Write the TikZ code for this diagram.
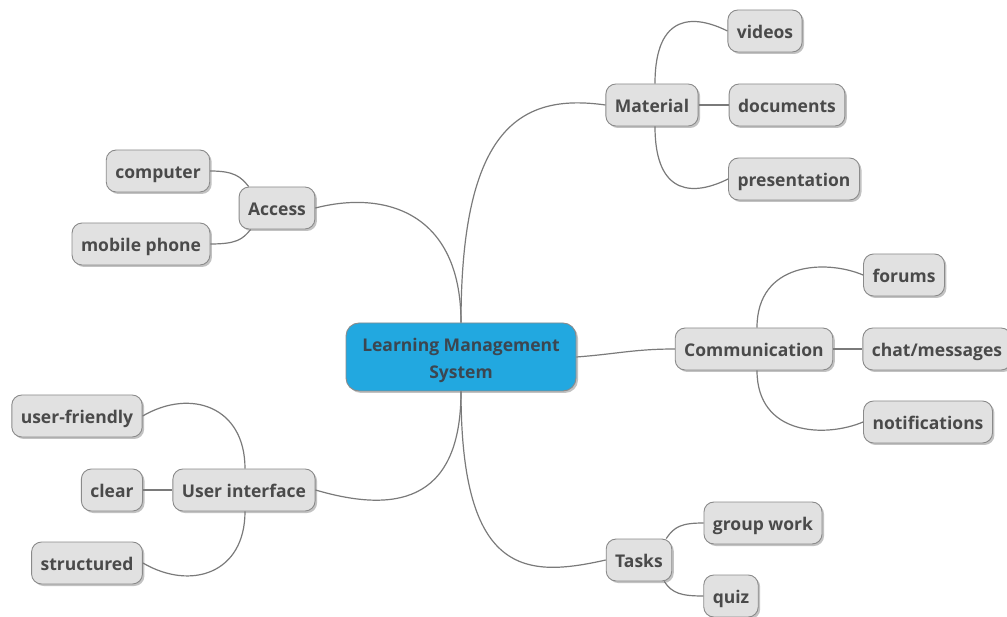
\documentclass[tikz,border=0pt]{standalone}
\usepackage{fontspec}
\setmainfont{Open Sans}
\usetikzlibrary{shadows}
\definecolor{boxfill}{HTML}{E1E1E1}
\definecolor{boxline}{HTML}{8A8A8A}
\definecolor{ink}{HTML}{4A4A4A}
\definecolor{hubfill}{HTML}{22A8E0}
\definecolor{hubink}{HTML}{3C4650}
\definecolor{wire}{HTML}{7A7A7A}
\tikzset{
  topic/.style={draw=boxline, line width=0.9pt, fill=boxfill, rounded corners=10pt,
    text=ink, font=\fontsize{17.5}{21}\selectfont\bfseries,
    minimum height=42pt, inner xsep=9pt, text height=15pt, text depth=0pt,
    drop shadow={shadow xshift=2pt, shadow yshift=-2pt, opacity=0.4, fill=black!60}},
  hub/.style={draw=boxline, line width=0.9pt, fill=hubfill, rounded corners=13pt,
    text=hubink, font=\fontsize{17.5}{27}\selectfont\bfseries,
    minimum width=230pt, minimum height=68pt,
    drop shadow={shadow xshift=2pt, shadow yshift=-2pt, opacity=0.4, fill=black!60}},
  link/.style={draw=wire, line width=1.2pt}
}
\begin{document}
\begin{tikzpicture}[x=1pt, y=-1pt]
\useasboundingbox (0,0) rectangle (1007,617);
\clip (0,0) rectangle (1007,617);

% central topic
\node[hub] (lms) at (461,357)
  {\raisebox{-2.5pt}[\height][\depth]{\begin{tabular}{@{}c@{}}Learning Management\\System\end{tabular}}};

% main branches
\node[topic] (mat) at (652,105) {Material};
\node[topic] (acc) at (277,208) {Access};
\node[topic] (com) at (754,349) {Communication};
\node[topic] (ui)  at (244,490) {User interface};
\node[topic] (tsk) at (639,560) {Tasks};

% material
\node[topic] (vid) at (765,31)  {videos};
\node[topic] (doc) at (787,105) {documents};
\node[topic] (pre) at (794,179) {presentation};

% access
\node[topic] (cmp) at (158,171) {computer};
\node[topic] (mob) at (141,244) {mobile phone};

% communication
\node[topic] (frm) at (904,275) {forums};
\node[topic] (cht) at (937,349) {chat/messages};
\node[topic] (ntf) at (928,422) {notifications};

% user interface
\node[topic] (ufr) at (77,416)  {user-friendly};
\node[topic] (clr) at (112,490) {clear};
\node[topic] (str) at (87,563)  {structured};

% tasks
\node[topic] (grp) at (763,523) {group work};
\node[topic] (qz)  at (731,596) {quiz};

% connectors from the central topic
\draw[link] (lms.north) .. controls +(0,-195) and +(-85,-12) .. (mat.west);
\draw[link] (lms.north) .. controls +(0,-110) and +(70,-18) .. (acc.east);
\draw[link] (lms.east) .. controls +(40,-3) and +(-40,0) .. (com.west);
\draw[link] (lms.south) .. controls +(0,115) and +(75,22) .. (ui.east);
\draw[link] (lms.south) .. controls +(0,185) and +(-80,18) .. (tsk.west);

% material children
\draw[link] ([xshift=3pt]mat.north) .. controls +(0,-72) and +(-32,-16) .. (vid.west);
\draw[link] (mat.east) -- (doc.west);
\draw[link] ([xshift=3pt]mat.south) .. controls +(0,72) and +(-32,16) .. (pre.west);

% access children
\draw[link] (cmp.east) .. controls +(24,0) and +(-8,-10) .. ([xshift=10pt]acc.north west);
\draw[link] (mob.east) .. controls +(26,0) and +(-8,10) .. ([xshift=12pt]acc.south west);

% communication children
\draw[link] ([xshift=3pt]com.north) .. controls +(0,-65) and +(-38,-16) .. (frm.west);
\draw[link] (com.east) -- (cht.west);
\draw[link] ([xshift=3pt]com.south) .. controls +(0,65) and +(-38,16) .. (ntf.west);

% user interface children
\draw[link] (ufr.east) .. controls +(48,-28) and +(0,-62) .. ([xshift=1pt]ui.north);
\draw[link] (clr.east) -- (ui.west);
\draw[link] (str.east) .. controls +(48,28) and +(0,62) .. ([xshift=1pt]ui.south);

% tasks children
\draw[link] ([xshift=-6pt]tsk.north east) .. controls +(8,-12) and +(-22,0) .. (grp.west);
\draw[link] ([xshift=-8pt]tsk.south east) .. controls +(8,12) and +(-22,0) .. (qz.west);
\end{tikzpicture}
\end{document}
